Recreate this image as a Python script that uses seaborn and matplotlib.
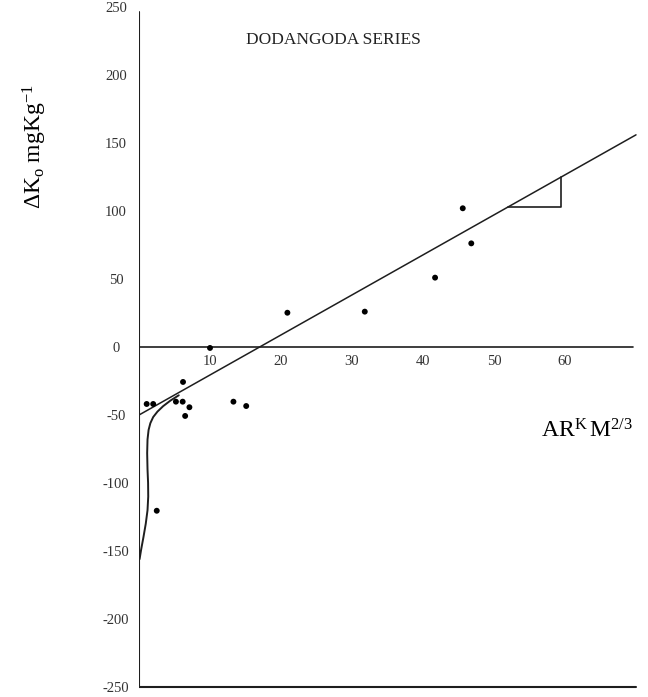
import matplotlib
matplotlib.use("Agg")
import matplotlib.pyplot as plt
import seaborn as sns
import pandas as pd

# ---- data ----
pts_x = [6.2, 1.08, 2.0, 5.2, 6.15, 7.1, 6.5, 13.3, 15.1, 10.0, 20.9, 31.8, 41.7, 45.6, 46.8, 2.5]
pts_y = [-25.7, -41.9, -41.9, -40.2, -40.2, -44.3, -50.7, -40.2, -43.4, -0.7, 25.2, 26.0, 51.0, 102.0, 76.2, -120.4]

line_x = [0.0, 70.0]
line_y = [-50.0, 156.0]

curve_x = [5.6, 4.4, 3.4, 2.6, 2.0, 1.6, 1.35, 1.2, 1.15, 1.2, 1.28, 1.3, 1.2, 0.95, 0.62, 0.3, 0.08]
curve_y = [-35.5, -39.5, -43.5, -47.5, -51.5, -56.0, -61.0, -68.0, -78.0, -90.0, -100.0, -110.0, -120.0, -130.0, -140.0, -149.0, -156.0]

tri_x = [52.0, 59.4, 59.4]
tri_y = [103.0, 103.0, 125.0]

x_ticks = [10, 20, 30, 40, 50, 60]
y_ticks = [-250, -200, -150, -100, -50, 0, 50, 100, 150, 200, 250]

title = "DODANGODA SERIES"
xlabel = r"$\mathrm{AR^{K}\,M^{2/3}}$"
ylabel = r"$\Delta\mathrm{K_o\ mgKg^{-1}}$"

# ---- style ----
sns.set_theme(style="white")
plt.rcParams["font.family"] = ["Liberation Serif", "DejaVu Serif"]
plt.rcParams["mathtext.fontset"] = "custom"
plt.rcParams["mathtext.rm"] = "Liberation Serif"
plt.rcParams["mathtext.it"] = "Liberation Serif:italic"
plt.rcParams["mathtext.bf"] = "Liberation Serif:bold"

W, H = 648, 697
fig = plt.figure(figsize=(W / 100, H / 100), dpi=100)
x0 = 139
ax = fig.add_axes([x0 / W, 0, (W - x0) / W, 1])
ax.set_xlim(0, (W - x0) / 7.1)
ax.set_ylim(-350 / 1.36, 347 / 1.36)

ink = "#1e1e1e"

# axes lines
sns.lineplot(x=[0, 0], y=[-250, 246], color=ink, lw=1.5, ax=ax, sort=False, estimator=None)
sns.lineplot(x=[0, 70.0], y=[-250, -250], color=ink, lw=1.5, ax=ax, sort=False, estimator=None)
sns.lineplot(x=[0, 69.6], y=[0, 0], color=ink, lw=1.2, ax=ax, sort=False, estimator=None)

# regression line, curve, slope triangle
sns.lineplot(x=line_x, y=line_y, color=ink, lw=1.1, ax=ax, sort=False, estimator=None)
sns.lineplot(x=curve_x, y=curve_y, color=ink, lw=1.4, ax=ax, sort=False, estimator=None)
sns.lineplot(x=tri_x, y=tri_y, color=ink, lw=1.2, ax=ax, sort=False, estimator=None)

# points
df = pd.DataFrame({"x": pts_x, "y": pts_y})
sns.scatterplot(data=df, x="x", y="y", color="black", s=18, edgecolor="none", ax=ax, zorder=5)

# ticks
for s in ax.spines.values():
    s.set_visible(False)
ax.spines["bottom"].set_position(("data", 0))
ax.set_xticks(x_ticks)
ax.set_xticklabels([str(t) for t in x_ticks])
ax.set_yticks(y_ticks)
ax.set_yticklabels([str(t) for t in y_ticks])
ax.tick_params(axis="x", length=0, pad=5.5, labelsize=10.5, labelcolor="#333333")
ax.tick_params(axis="y", length=0, pad=16.5, labelsize=10.5, labelcolor="#333333")
for lab in ax.get_yticklabels():
    lab.set_horizontalalignment("center")

ax.set_xlabel(xlabel, fontsize=17, color="black", va="center", ha="center")
ax.xaxis.set_label_coords((587 - x0) / (W - x0), 1 - 431 / H)
ax.set_ylabel(ylabel, fontsize=17, color="black", va="center", ha="center")
ax.yaxis.set_label_coords((35 - x0) / (W - x0), 1 - 147 / H)

fig.text(333 / W, 1 - 40 / H, title, fontsize=12.5, ha="center", va="center", color="#222222")

fig.savefig("out.png", dpi=100, facecolor="white")
